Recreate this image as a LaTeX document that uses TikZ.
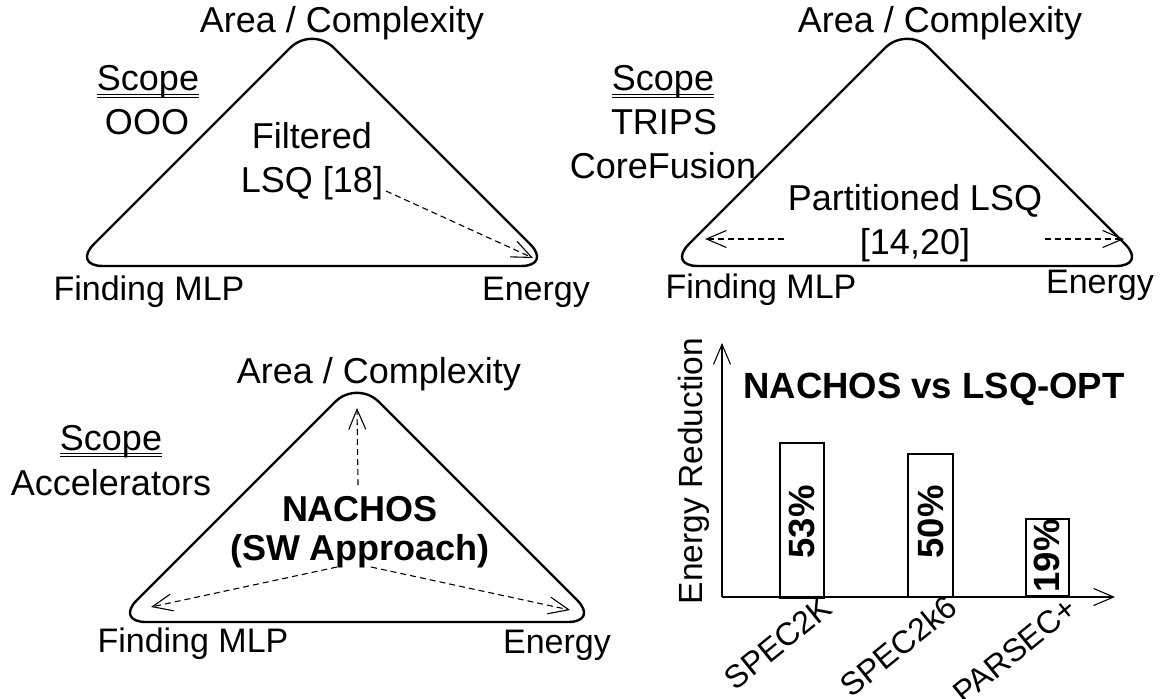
\documentclass[tikz,border=0pt]{standalone}
\usepackage{fontspec}
\setmainfont{Liberation Sans}
\usetikzlibrary{arrows.meta}
\begin{document}
\begin{tikzpicture}[x=1pt,y=-1pt,
  tri/.style={line width=2.4pt, rounded corners=31pt, line join=round},
  tip/.style={-{Straight Barb[length=20pt,width=17pt,line width=1.1pt]}},
  dsh/.style={tip, line width=1.1pt, dash pattern=on 6pt off 4pt},
  t/.style={font=\fontsize{36}{42}\selectfont, inner sep=0pt, anchor=base},
  tc/.style={t, font=\fontsize{34}{40}\selectfont},
  tx/.style={t, font=\fontsize{32}{38}\selectfont},
  tb/.style={t, font=\fontsize{36}{42}\selectfont\bfseries},
  tbig/.style={t, font=\fontsize{36.5}{42}\selectfont\bfseries},
  ty/.style={t, font=\fontsize{33.5}{40}\selectfont},
  ul/.style={line width=0.9pt},
  ax/.style={tip, line width=1.4pt},
  bar/.style={line width=1.6pt},
]
\useasboundingbox (0,0) rectangle (1166,698);

% ---------- Triangle 1 ----------
\draw[tri] (312,266) -- (72,266) -- (312,26) -- (552,266) -- cycle;
\node[t] (a1) at (342,33) {Area / Complexity};
\node[t] (s1) at (148,91) {Scope};
\draw[ul] ([yshift=-3.5pt]s1.base west) -- ([yshift=-3.5pt]s1.base east);
\draw[ul] ([yshift=-6.5pt]s1.base west) -- ([yshift=-6.5pt]s1.base east);
\node[t] (o1) at (147,135) {OOO};
\node[t] (f1) at (312,148) {Filtered};
\node[t] (l1) at (312,192) {LSQ [18]};
\node[tc] (m1) at (149,300) {Finding MLP};
\node[tc] (e1) at (536,300) {Energy};
\coordinate (l1s) at (386,191);
\coordinate (e1t) at (533,258);
\draw[dsh] (l1s) -- (e1t);

% ---------- Triangle 2 ----------
\draw[tri] (907,266) -- (667,266) -- (907,26) -- (1147,266) -- cycle;
\node[t] (a2) at (940,33) {Area / Complexity};
\node[t] (s2) at (663,91) {Scope};
\draw[ul] ([yshift=-3.5pt]s2.base west) -- ([yshift=-3.5pt]s2.base east);
\draw[ul] ([yshift=-6.5pt]s2.base west) -- ([yshift=-6.5pt]s2.base east);
\node[t] (tr2) at (664,135) {TRIPS};
\node[t] (cf2) at (663,178) {CoreFusion};
\node[t] (p2) at (915,210) {Partitioned LSQ};
\node[t] (r2) at (915,254) {[14,20]};
\node[tc] (m2) at (761,298) {Finding MLP};
\node[tc] (e2) at (1100,293) {Energy};
\coordinate (r2l) at (784,239);
\coordinate (m2t) at (705,239);
\coordinate (r2r) at (1045,239);
\coordinate (e2t) at (1124,239);
\draw[dsh] (r2l) -- (m2t);
\draw[dsh] (r2r) -- (e2t);

% ---------- Triangle 3 ----------
\draw[tri] (357,622) -- (115,622) -- (357,380) -- (599,622) -- cycle;
\node[t] (a3) at (379,383) {Area / Complexity};
\node[t] (s3) at (111,450) {Scope};
\draw[ul] ([yshift=-3.5pt]s3.base west) -- ([yshift=-3.5pt]s3.base east);
\draw[ul] ([yshift=-6.5pt]s3.base west) -- ([yshift=-6.5pt]s3.base east);
\node[t] (ac3) at (111,495) {Accelerators};
\node[tb] (n3) at (360,521) {NACHOS};
\node[tb] (sw3) at (360,560) {(SW Approach)};
\node[tc] (m3) at (193,652) {Finding MLP};
\node[tc] (e3) at (557,653) {Energy};
\coordinate (n3u) at (358,485);
\coordinate (a3t) at (357,408);
\coordinate (sw3l) at (337,567);
\coordinate (m3t) at (151,607);
\coordinate (sw3r) at (371,567);
\coordinate (e3t) at (570,610);
\draw[dsh] (n3u) -- (a3t);
\draw[dsh] (sw3l) -- (m3t);
\draw[dsh] (sw3r) -- (e3t);

% ---------- Bar chart ----------
\coordinate (O) at (722,597);
\coordinate (yt) at (722,343);
\coordinate (xt) at (1115,597);
\draw[ax] (O) -- (yt);
\draw[ax] (O) -- (xt);
\node[ty, rotate=90] (yl) at (702,471) {Energy Reduction};
\node[tbig] (ti) at (934,398) {NACHOS vs LSQ-OPT};
\draw[bar] (780,443) rectangle (824,598);
\draw[bar] (908,454) rectangle (953,597);
\draw[bar] (1026,519) rectangle (1069,596);
\node[tbig, rotate=90, anchor=center] (b1) at (802,522) {53\%};
\node[tbig, rotate=90, anchor=center] (b2) at (931,522) {50\%};
\node[tbig, rotate=90, anchor=center] (b3) at (1047,556) {19\%};
\node[tx, rotate=39, anchor=north east] (x1) at (820,594) {SPEC2K};
\node[tx, rotate=39, anchor=north east] (x2) at (945,593) {SPEC2k6};
\node[tx, rotate=39, anchor=north east] (x3) at (1065,595) {PARSEC+};
\end{tikzpicture}
\end{document}
